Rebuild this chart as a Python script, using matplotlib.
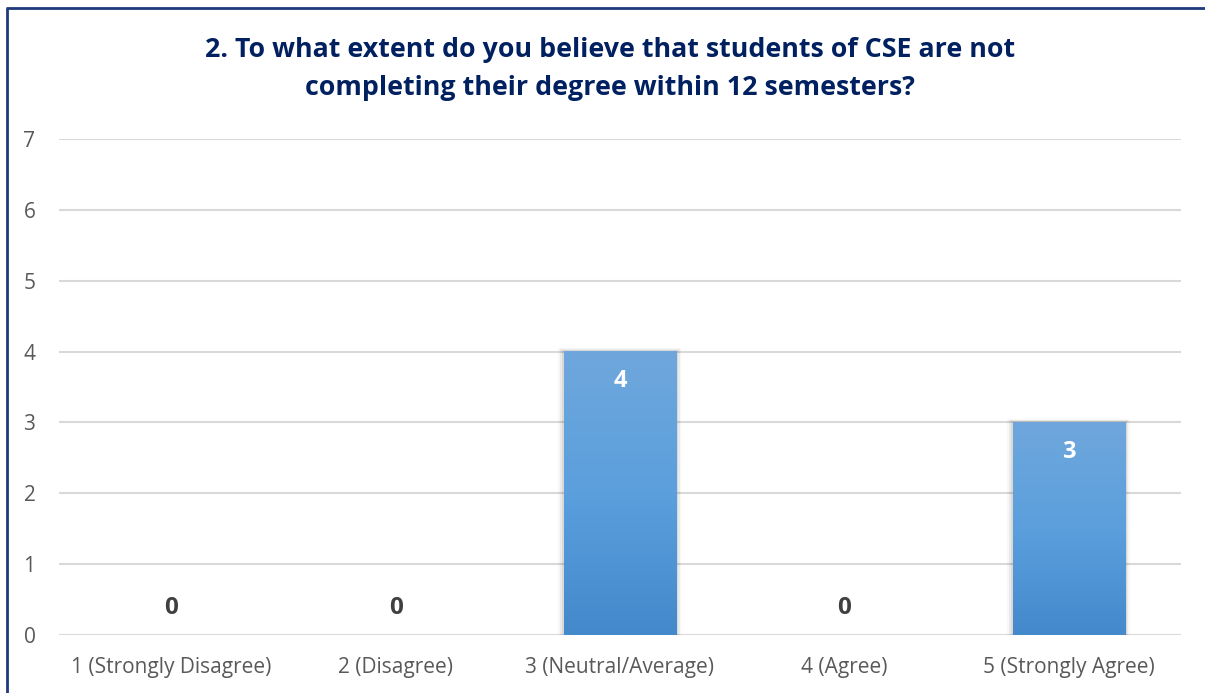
import numpy as np
import matplotlib.pyplot as plt
from matplotlib.lines import Line2D

categories = ["1 (Strongly Disagree)", "2 (Disagree)", "3 (Neutral/Average)",
              "4 (Agree)", "5 (Strongly Agree)"]
counts = [0, 0, 4, 0, 3]
title = "2. To what extent do you believe that students of CSE are not\ncompleting their degree within 12 semesters?"

plt.rcParams['font.family'] = ['Open Sans', 'DejaVu Sans']

fig = plt.figure(figsize=(12.05, 6.93), dpi=100)
ax = fig.add_axes([0.049, 0.0837, 0.931, 0.7157])

x = np.arange(len(categories))
width = 0.5

ax.set_xlim(-0.5, len(categories) - 0.5)
ax.set_ylim(0, 7)

# gradient fill for each bar (lighter on top)
grad = np.linspace(0, 1, 256).reshape(-1, 1)
cmap = plt.matplotlib.colors.LinearSegmentedColormap.from_list(
    "barblue", ["#4389cb", "#5b9fdd", "#6fa7dc"])
bars = ax.bar(x, counts, width=width, color="none", zorder=3)
for b, v in zip(bars, counts):
    if v <= 0:
        continue
    x0 = b.get_x()
    # soft shadow
    for k, a in enumerate([0.07, 0.05, 0.03]):
        off = 0.008 * (k + 1)
        ax.add_patch(plt.Rectangle((x0 - off, 0), width + 2 * off, v + off * 2,
                                   color="black", alpha=a, lw=0, zorder=2))
    ax.imshow(grad, extent=(x0, x0 + width, 0, v), origin="lower",
              cmap=cmap, aspect="auto", zorder=3)

for xi, v in zip(x, counts):
    if v > 0:
        ax.text(xi, v - 0.42, str(v), ha="center", va="center",
                color="white", fontsize=17, fontweight="bold", zorder=4)
    else:
        ax.text(xi, v + 0.38, str(v), ha="center", va="center",
                color="#404040", fontsize=17.5, fontweight="bold", zorder=4)

ax.set_xlim(-0.5, len(categories) - 0.5)
ax.set_ylim(0, 7)
ax.set_yticks(range(0, 8))
ax.set_xticks(x)
ax.set_xticklabels(categories)
ax.grid(axis="y", color="#d9d9d9", linewidth=1.5, zorder=0)
ax.set_axisbelow(True)
for s in ax.spines.values():
    s.set_visible(False)
ax.tick_params(axis="both", length=0, labelsize=15, labelcolor="#595959")
ax.tick_params(axis="y", pad=17)
ax.tick_params(axis="x", pad=16)

fig.suptitle(title, x=0.506, y=0.946, fontsize=19.3, fontweight="bold",
             color="#002060", linespacing=1.6, va="top")

# outer frame on left and top edges
fig.add_artist(Line2D([6.5 / 1205, 6.5 / 1205], [0, 1 - 7.5 / 693],
                      transform=fig.transFigure, color="#1f3a7a", lw=2,
                      solid_capstyle="butt"))
fig.add_artist(Line2D([5.5 / 1205, 1], [1 - 7.5 / 693, 1 - 7.5 / 693],
                      transform=fig.transFigure, color="#1f3a7a", lw=2,
                      solid_capstyle="butt"))

fig.savefig("out.png", dpi=100)
